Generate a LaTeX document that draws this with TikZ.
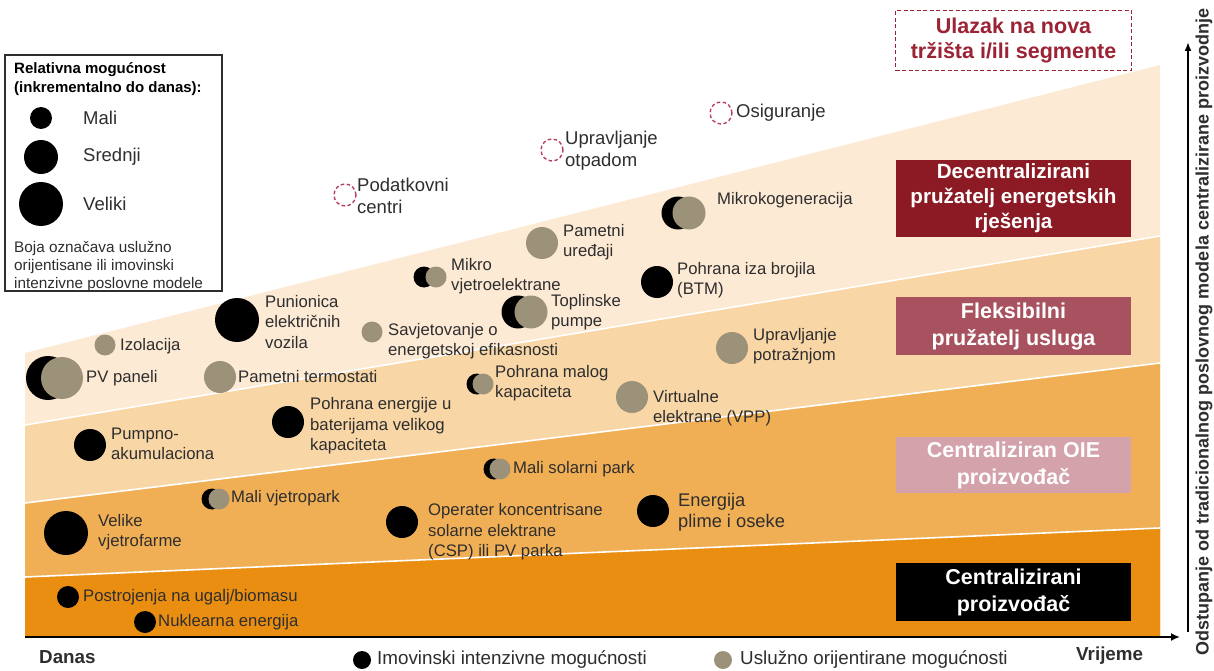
\documentclass[tikz,border=0pt]{standalone}
\usepackage{fontspec}
\setmainfont{Liberation Sans}
\usetikzlibrary{arrows.meta}
\definecolor{bandA}{HTML}{FCEAD5}
\definecolor{bandB}{HTML}{F8D6A6}
\definecolor{bandC}{HTML}{F1AF55}
\definecolor{bandD}{HTML}{EA8E12}
\definecolor{greyc}{HTML}{9C9279}
\definecolor{dashred}{HTML}{B5415E}
\definecolor{boxred}{HTML}{9B2335}
\definecolor{decbox}{HTML}{8B1A25}
\definecolor{flexbox}{HTML}{A9525F}
\definecolor{oiebox}{HTML}{D4A2AB}
\definecolor{txt}{HTML}{2E2E2E}
\newcommand\myfs[2]{\fontsize{#1}{#2}\selectfont}
\begin{document}
\begin{tikzpicture}[x=1pt,y=-1pt,
  lbl/.style={anchor=west, align=left, font=\myfs{16.7}{20.5}, text=txt, inner sep=0pt},
  lblb/.style={lbl, font=\myfs{18.5}{22}},
  blk/.style={circle, fill=black, inner sep=0pt, minimum size=#1},
  gry/.style={circle, fill=greyc, inner sep=0pt, minimum size=#1},
  dsh/.style={circle, draw=dashred, dash pattern=on 3.5pt off 2.5pt, line width=1.4pt, inner sep=0pt, minimum size=#1},
  seg/.style={fill=#1, text=white, font=\bfseries\myfs{21.5}{27}, align=center, minimum width=235pt, inner sep=0pt},
  sepline/.style={white, line width=1.6pt},
]
\useasboundingbox (0,0) rectangle (1214,671);
% bands
\fill[bandA] (25,353) -- (1160,65) -- (1160,637) -- (25,637) -- cycle;
\fill[bandB] (25,425) -- (1160,236) -- (1160,637) -- (25,637) -- cycle;
\fill[bandC] (25,503) -- (1160,363) -- (1160,637) -- (25,637) -- cycle;
\fill[bandD] (25,577) -- (1160,528) -- (1160,637) -- (25,637) -- cycle;
\draw[sepline] (25,425) -- (1160,236);
\draw[sepline] (25,503) -- (1160,363);
\draw[sepline] (25,577) -- (1160,528);

% axes
\coordinate (xa0) at (25,637);
\coordinate (xa1) at (1180,637);
\coordinate (ya0) at (1188,632);
\coordinate (ya1) at (1188,42);
\draw[line width=2.4pt, -{Latex[length=9pt,width=8pt]}] (xa0) -- (xa1);
\draw[line width=2pt, -{Latex[length=9pt,width=7pt]}] (ya0) -- (ya1);
\node[rotate=90, font=\bfseries\myfs{18}{20}, text=txt, inner sep=0pt] (yl) at (1204,332)
  {Odstupanje od tradicionalnog poslovnog modela centralizirane proizvodnje};
\node[anchor=west, font=\bfseries\myfs{18.8}{22}, text=txt, inner sep=0pt] (danas) at (39,657) {Danas};
\node[anchor=west, font=\bfseries\myfs{18.8}{22}, text=txt, inner sep=0pt] (vrij) at (1076,656) {Vrijeme};

% bottom legend
\node[blk=18pt] (lgb) at (362,660) {};
\node[anchor=west, font=\myfs{18.8}{22}, text=txt, inner sep=0pt] (lgbt) at (377,660) {Imovinski intenzivne mogućnosti};
\node[gry=18pt] (lgg) at (723,660) {};
\node[anchor=west, font=\myfs{18.8}{22}, text=txt, inner sep=0pt] (lggt) at (740,660) {Uslužno orijentirane mogućnosti};

% legend box
\node[draw=txt, line width=1.1pt, fill=white, minimum width=217pt, minimum height=236pt, inner sep=0pt] (lgbox) at (113.5,173) {};
\node[anchor=north west, align=left, font=\bfseries\myfs{15}{19}, text=black, inner sep=0pt] (lgtitle) at (14,62)
  {Relativna mogućnost\\(inkrementalno do danas):};
\node[blk=22pt] (lmali) at (41,118) {};
\node[blk=34pt] (lsred) at (41,157) {};
\node[blk=44pt] (lvel) at (41,204) {};
\node[lblb] (lmalit) at (83,118) {Mali};
\node[lblb] (lsredt) at (83,157) {Srednji};
\node[lblb] (lvelt) at (83,204) {Veliki};
\node[anchor=west, align=left, font=\myfs{15.3}{18}, text=txt, inner sep=0pt] (lgnote) at (14,267)
  {Boja označava uslužno\\orijentisane ili imovinski\\intenzivne poslovne modele};

% segment boxes
\node[draw=boxred, dash pattern=on 4pt off 2.5pt, line width=1.3pt, fill=white, text=boxred,
  font=\bfseries\myfs{21.5}{25}, align=center, minimum width=236pt, minimum height=60pt, inner sep=0pt] (ulaz) at (1013.5,40.5)
  {Ulazak na nova\\tržišta i/ili segmente};
\node[seg=decbox, minimum height=77pt, font=\bfseries\myfs{20.6}{25}] (dec) at (1013.5,198.5)
  {Decentralizirani\\pružatelj energetskih\\rješenja};
\node[seg=flexbox, minimum height=58pt] (flex) at (1013.5,326) {Fleksibilni\\pružatelj usluga};
\node[seg=oiebox, minimum height=56pt] (oie) at (1013.5,465) {Centraliziran OIE\\proizvođač};
\node[seg=black, minimum height=58pt] (cen) at (1013.5,592) {Centralizirani\\proizvođač};

% dashed (new markets)
\node[dsh=22pt] (cpod) at (345,195) {};
\node[lblb] (tpod) at (357,196) {Podatkovni\\centri};
\node[dsh=22pt] (cotp) at (552,150) {};
\node[lblb] (totp) at (565,151) {Upravljanje\\otpadom};
\node[dsh=22pt] (cosi) at (721,113) {};
\node[lblb] (tosi) at (736,113) {Osiguranje};

% top band
\node[gry=21pt] (cizo) at (105,345) {};
\node[lbl] (tizo) at (120,346) {Izolacija};
\node[blk=44pt] (cpvb) at (48,378) {};
\node[gry=42pt] (cpvg) at (62,378) {};
\node[lbl] (tpv) at (86,378) {PV paneli};
\node[blk=44pt] (cpun) at (237,320) {};
\node[lbl] (tpun) at (265,322) {Punionica\\električnih\\vozila};
\node[gry=32pt] (cter) at (220,377) {};
\node[lbl] (tter) at (238,377) {Pametni termostati};
\node[gry=21pt] (csav) at (372,332) {};
\node[lbl] (tsav) at (388,341) {Savjetovanje o\\energetskoj efikasnosti};
\node[blk=21pt] (cmvb) at (424,277) {};
\node[gry=21pt] (cmvg) at (436,277) {};
\node[lbl] (tmv) at (451,276) {Mikro\\vjetroelektrane};
\node[gry=32pt] (cpu) at (542,243) {};
\node[lbl] (tpu) at (563,242) {Pametni\\uređaji};
\node[blk=33pt] (ctpb) at (518,312) {};
\node[gry=33pt] (ctpg) at (531,312) {};
\node[lbl] (ttp) at (551,312) {Toplinske\\pumpe};
\node[blk=33pt] (cmkb) at (678,213) {};
\node[gry=33pt] (cmkg) at (689,213) {};
\node[lbl] (tmk) at (717,200) {Mikrokogeneracija};
\node[blk=32pt] (cbtm) at (657,282) {};
\node[lbl] (tbtm) at (677,280) {Pohrana iza brojila\\(BTM)};

% second band
\node[gry=32pt] (cupr) at (732,348) {};
\node[lbl] (tupr) at (753,346) {Upravljanje\\potražnjom};
\node[blk=21pt] (cpmb) at (477,384) {};
\node[gry=21pt] (cpmg) at (483,384) {};
\node[lbl] (tpm) at (495,383) {Pohrana malog\\kapaciteta};
\node[gry=32pt] (cvpp) at (632,397) {};
\node[lbl] (tvpp) at (653,408) {Virtualne\\elektrane (VPP)};
\node[blk=32pt] (cbat) at (288,422) {};
\node[lbl] (tbat) at (310,426) {Pohrana energije u\\baterijama velikog\\kapaciteta};
\node[blk=32pt] (cpum) at (90,445) {};
\node[lbl] (tpum) at (111,444) {Pumpno-\\akumulaciona};

% third band
\node[blk=21pt] (cmvpb) at (212,499) {};
\node[gry=21pt] (cmvpg) at (219,499) {};
\node[lbl] (tmvp) at (231,498) {Mali vjetropark};
\node[blk=44pt] (cvel) at (66,533) {};
\node[lbl] (tvel) at (98,532) {Velike\\vjetrofarme};
\node[blk=21pt] (cmspb) at (494,469) {};
\node[gry=21pt] (cmspg) at (500,469) {};
\node[lbl] (tmsp) at (513,469) {Mali solarni park};
\node[blk=32pt] (ccsp) at (402,522) {};
\node[lbl] (tcsp) at (428,532) {Operater koncentrisane\\solarne elektrane\\(CSP) ili PV parka};
\node[blk=32pt] (cpli) at (653,511) {};
\node[lbl, font=\myfs{18.3}{21}] (tpli) at (678,512) {Energija\\plime i oseke};

% bottom band
\node[blk=22pt] (cpos) at (68,597) {};
\node[lbl] (tpos) at (83,597) {Postrojenja na ugalj/biomasu};
\node[blk=22pt] (cnuk) at (145,622) {};
\node[lbl] (tnuk) at (158,622) {Nuklearna energija};
\end{tikzpicture}
\end{document}
